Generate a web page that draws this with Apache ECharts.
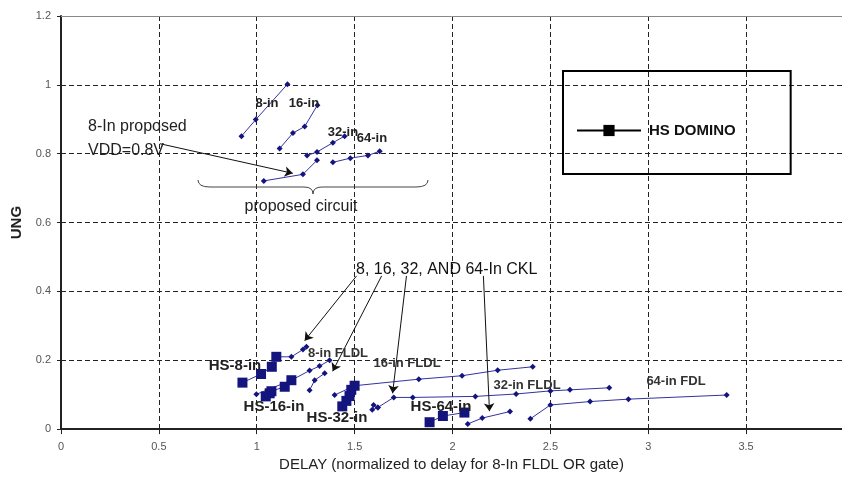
<!DOCTYPE html>
<html>
<head>
<meta charset="utf-8">
<script src="https://cdn.jsdelivr.net/npm/echarts@6/dist/echarts.min.js"></script>
<style>
html,body{margin:0;padding:0;background:#fff}
#main{width:842px;height:477px}
</style>
</head>
<body>
<div id="main"></div>
<script>
// proposed circuit curves (upper cluster)
var p8 = [[0.922,0.851],[0.995,0.899],[1.157,1.002]];
var p16 = [[1.117,0.815],[1.185,0.860],[1.245,0.879],[1.310,0.941]];
var p32 = [[1.257,0.795],[1.308,0.805],[1.389,0.832],[1.449,0.851]];
var p64 = [[1.389,0.775],[1.478,0.787],[1.568,0.795],[1.628,0.807]];
var p8v = [[1.036,0.721],[1.236,0.740],[1.308,0.781]];

// HS domino points
var hs8 = [[0.927,0.135],[1.022,0.160],[1.077,0.181],[1.100,0.210]];
var hs16 = [[1.046,0.095],[1.066,0.104],[1.075,0.110],[1.143,0.123],[1.177,0.142]];
var hs32 = [[1.437,0.066],[1.458,0.082],[1.474,0.096],[1.483,0.114],[1.500,0.126]];
var hs64 = [[1.883,0.020],[1.951,0.038],[2.061,0.048]];

// FLDL curves (lower cluster)
var fl8 = [[1.100,0.210],[1.177,0.210],[1.236,0.231],[1.254,0.239]];
var fl16 = [[0.998,0.101],[1.177,0.142],[1.270,0.170],[1.321,0.183],[1.372,0.200]];
var fl32a = [[1.270,0.113],[1.296,0.142],[1.347,0.162]];
var fl32b = [[1.398,0.099],[1.500,0.126],[1.828,0.145],[2.049,0.155],[2.231,0.171],[2.410,0.181]];
var fl64a = [[1.590,0.056],[1.619,0.063],[1.700,0.092],[1.797,0.092],[2.117,0.095],[2.325,0.102],[2.500,0.111],[2.600,0.114],[2.801,0.120]];
var fl64b = [[1.597,0.070],[1.619,0.063]];
var fl64c = [[2.078,0.015],[2.152,0.032],[2.294,0.051]];
var fl64d = [[2.398,0.030],[2.500,0.070],[2.703,0.080],[2.899,0.087],[3.401,0.099]];

// annotation arrows [x0,y0,x1,y1]
var arrows = [
  [0.505,0.829,1.184,0.743],
  [1.510,0.445,1.245,0.257],
  [1.638,0.445,1.388,0.168],
  [1.765,0.445,1.694,0.104],
  [2.158,0.445,2.189,0.052]
];

var navy = '#14147e';
var lineNavy = '#3333a0';

function fldl(name, pts) {
  return {
    name: name, type: 'line', data: pts, z: 3,
    symbol: 'diamond', symbolSize: 6,
    itemStyle: {color: navy},
    lineStyle: {color: lineNavy, width: 1}
  };
}
function hs(pts) {
  return {
    name: 'HS DOMINO', type: 'line', data: pts, z: 4,
    symbol: 'rect', symbolSize: 10,
    itemStyle: {color: navy},
    lineStyle: {color: lineNavy, width: 1}
  };
}

var series = [
  fldl('p8', p8), fldl('p16', p16), fldl('p32', p32), fldl('p64', p64), fldl('p8v', p8v),
  fldl('fl8', fl8), fldl('fl16', fl16), fldl('fl32a', fl32a), fldl('fl32b', fl32b),
  fldl('fl64a', fl64a), fldl('fl64b', fl64b), fldl('fl64c', fl64c), fldl('fl64d', fl64d),
  hs(hs8), hs(hs16), hs(hs32), hs(hs64)
];
series[0].markLine = {
  silent: true, animation: false,
  symbol: ['none', 'arrow'], symbolSize: 8,
  label: {show: false},
  lineStyle: {color: '#111', width: 1, type: 'solid'},
  data: arrows.map(function(a){ return [{coord: [a[0], a[1]]}, {coord: [a[2], a[3]]}]; })
};

function txt(s, x, y, font, color) {
  return {type: 'text', z: 10, style: {text: s, x: x, y: y, font: font, fill: color || '#222',
    textAlign: 'center', textVerticalAlign: 'middle'}};
}
function bez(x1,y1,cx,cy,x2,y2) {
  return {type: 'bezierCurve', z: 10, shape: {x1:x1,y1:y1,cpx1:cx,cpy1:cy,x2:x2,y2:y2},
    style: {stroke: '#444', lineWidth: 1, fill: null}};
}

var small = 'bold 13px Arial';
var big = 'bold 15px Arial';

var chart = echarts.init(document.getElementById('main'));
chart.setOption({
  animation: false,
  backgroundColor: '#fff',
  grid: {left: 61, top: 16, right: 0, bottom: 46},
  legend: {
    data: ['HS DOMINO'], left: 563, top: 71,
    padding: [52, 55, 36, 13],
    borderColor: '#000', borderWidth: 2,
    itemWidth: 64, itemHeight: 14,
    itemStyle: {color: '#000'},
    lineStyle: {color: '#000', width: 2},
    textStyle: {fontFamily: 'Arial', fontWeight: 'bold', fontSize: 15, color: '#111', padding: [0,0,0,3]}
  },
  xAxis: [{
    type: 'value', min: 0, max: 3.99, interval: 0.5,
    name: 'DELAY (normalized to delay for 8-In FLDL OR gate)',
    nameLocation: 'middle', nameGap: 27,
    nameTextStyle: {fontFamily: 'Arial', fontSize: 15, color: '#222'},
    axisLine: {lineStyle: {color: '#222', width: 2}},
    axisTick: {length: 5, lineStyle: {color: '#222'}},
    axisLabel: {fontFamily: 'Arial', fontSize: 11, color: '#555', margin: 12, showMaxLabel: false},
    splitLine: {lineStyle: {color: '#222', type: [5, 3], width: 1}}
  }, {
    type: 'value', position: 'top', min: 0, max: 3.99,
    axisLine: {show: true, lineStyle: {color: '#888', width: 1}},
    axisTick: {show: false}, axisLabel: {show: false}, splitLine: {show: false}
  }],
  yAxis: {
    type: 'value', min: 0, max: 1.2, interval: 0.2,
    name: 'UNG', nameLocation: 'middle', nameGap: 24, nameRotate: 90,
    nameTextStyle: {fontFamily: 'Arial', fontSize: 15, fontWeight: 'bold', color: '#222'},
    axisLine: {show: true, lineStyle: {color: '#222', width: 2}},
    axisTick: {show: true, length: 4, lineStyle: {color: '#222'}},
    axisLabel: {fontFamily: 'Arial', fontSize: 11, color: '#555', margin: 10},
    splitLine: {lineStyle: {color: '#222', type: [5, 3], width: 1}}
  },
  series: series,
  graphic: [
    txt('8-in', 267, 103, small), txt('16-in', 304, 103, small),
    txt('32-in', 343, 132, small), txt('64-in', 372, 138, small),
    {type: 'text', z: 10, style: {text: '8-In proposed\nVDD=0.8V', x: 88, y: 115, font: '16px Arial', fill: '#222', lineHeight: 24}},
    bez(198,180,198,187,210,187),
    {type: 'line', z: 10, shape: {x1: 210, y1: 187, x2: 304, y2: 187}, style: {stroke: '#444', lineWidth: 1}},
    bez(304,187,313,187,313,194),
    bez(313,194,313,187,322,187),
    {type: 'line', z: 10, shape: {x1: 322, y1: 187, x2: 416, y2: 187}, style: {stroke: '#444', lineWidth: 1}},
    bez(416,187,428,187,428,180),
    txt('proposed circuit', 301, 207, '16px Arial'),
    {type: 'text', z: 10, style: {text: '8, 16, 32, AND 64-In CKL', x: 356, y: 270, font: '16px Arial', fill: '#111', textVerticalAlign: 'middle'}},
    txt('HS-8-in', 235, 366, big),
    txt('8-in FLDL', 338, 353, small, '#333'),
    txt('16-in FLDL', 407, 363, small, '#333'),
    txt('HS-16-in', 274, 407, big),
    txt('HS-32-in', 337, 418, big),
    txt('HS-64-in', 441, 407, big),
    txt('32-in FLDL', 527, 385, small, '#333'),
    txt('64-in FDL', 676, 381, small, '#333')
  ]
});
</script>
</body>
</html>
